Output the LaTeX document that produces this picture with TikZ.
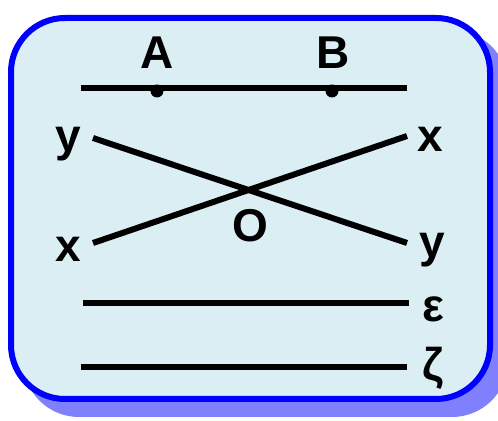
\documentclass[tikz,border=0pt]{standalone}
\usepackage{fontspec}
\setmainfont{Liberation Sans}
\usetikzlibrary{positioning}
\definecolor{frameBlue}{HTML}{0000FF}
\definecolor{paneFill}{HTML}{DBEEF4}
\definecolor{shadeBlue}{HTML}{8080FF}

\begin{document}
\begin{tikzpicture}[x=0.5pt,y=-0.5pt,
    lbl/.style={font=\fontsize{23}{27}\selectfont\bfseries,inner sep=0pt,anchor=base},
    seg/.style={line width=3pt}]
      \useasboundingbox (0,0) rectangle (498,421);
      \clip (0,0) rectangle (498,421);
      % panel with its shadow
      \fill[shadeBlue,rounded corners=28pt] (23,30) rectangle (508,417);
      \draw[frameBlue,fill=paneFill,line width=3pt,rounded corners=27pt] (11,18) rectangle (490,399);
      \coordinate (ab-w) at (81,88);
      \coordinate (ab-e) at (407,88);
      \coordinate (ptA) at (157,91);
      \coordinate (ptB) at (332,91);
      \coordinate (yy-w) at (93,138);
      \coordinate (yy-e) at (407,243);
      \coordinate (xx-w) at (93,243);
      \coordinate (xx-e) at (407,136);
      \coordinate (eps-w) at (83,303);
      \coordinate (eps-e) at (409,303);
      \coordinate (zeta-w) at (81,367);
      \coordinate (zeta-e) at (407,367);
      \node[lbl] (lblA) at (157,69) {A};
      \node[lbl] (lblB) at (333,69) {B};
      \node[lbl] (lblYl) at (68,152) {y};
      \node[lbl] (lblXr) at (430,152) {x};
      \node[lbl] (lblXl) at (68,262) {x};
      \node[lbl] (lblYr) at (432,258) {y};
      \node[lbl] (lblO) at (250,242) {O};
      \node[lbl] (lblEps) at (433,322) {ε};
      \node[lbl] (lblZeta) at (433,381) {ζ};
      \draw[seg] (ab-w) -- (ab-e);
      \fill (ptA) circle[radius=3.25pt];
      \fill (ptB) circle[radius=3.25pt];
      \draw[seg] (yy-w) -- (yy-e);
      \draw[seg] (xx-w) -- (xx-e);
      \draw[seg] (eps-w) -- (eps-e);
      \draw[seg] (zeta-w) -- (zeta-e);
    \end{tikzpicture}
\end{document}
